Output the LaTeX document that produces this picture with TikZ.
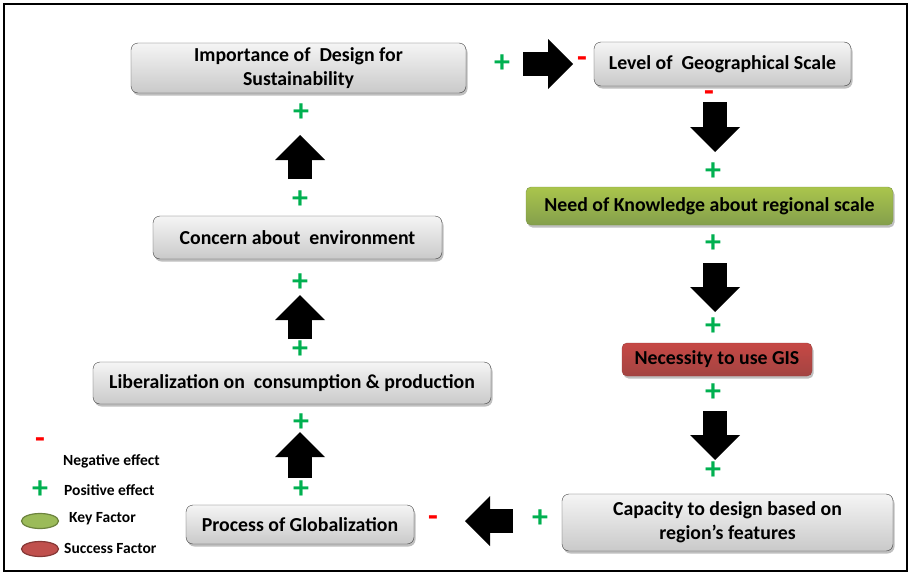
\documentclass[tikz,border=0pt]{standalone}
\usepackage{fontspec}
\setmainfont{Carlito}
\usetikzlibrary{arrows.meta,shadows,shapes.geometric}

\definecolor{plusgreen}{RGB}{0,176,80}
\definecolor{minusred}{RGB}{255,0,0}
\definecolor{keygreen}{RGB}{155,187,89}
\definecolor{succred}{RGB}{192,80,77}

\begin{document}
\begin{tikzpicture}[x=1pt,y=1pt]
        \tikzstyle{every node}+=[inner sep=0pt]
        \tikzstyle{every node}+=[font=\bfseries\fontsize{19.8}{24}\selectfont]
        \tikzstyle{boxshadow}=[drop shadow={shadow xshift=1.5pt,shadow yshift=-2.5pt,opacity=0.25,fill=black}]
        \tikzstyle{factor}=[draw=black!75, rounded corners=7pt, align=center, top color=black!4, bottom color=black!21, boxshadow]
        \tikzstyle{keyfactor}=[draw=keygreen!80!black, rounded corners=5pt, top color=keygreen!85!yellow, bottom color=keygreen!85!black, boxshadow]
        \tikzstyle{succfactor}=[draw=succred!80!black, rounded corners=5pt, top color=succred!90!red, bottom color=succred!85!black, boxshadow]
        \tikzstyle{blockarr}=[line width=24pt, -{Triangle[length=25pt,width=50pt,line width=0pt]}]
        \tikzstyle{plus}=[text=plusgreen, font=\bfseries\fontsize{32}{32}\selectfont]
        \tikzstyle{minus}=[text=minusred, font=\bfseries\fontsize{32}{32}\selectfont]
        \tikzstyle{legendtext}=[anchor=west, font=\bfseries\fontsize{15.5}{18}\selectfont]
        \useasboundingbox (0,0) rectangle (910,-573);
        \draw [black, line width=2pt] (4,-4) rectangle (907,-571);
        \node [factor, minimum width=335pt, minimum height=50pt] (imp) at (298.5,-68) {Importance of~ Design for\\Sustainability};
        \node [factor, minimum width=257pt, minimum height=44pt] (lvl) at (722.5,-64) {Level of~ Geographical Scale};
        \node [keyfactor, minimum width=367pt, minimum height=38pt] (need) at (709.5,-206) {Need of Knowledge about regional scale};
        \node [succfactor, minimum width=190pt, minimum height=33pt] (gis) at (717,-359.5) {Necessity to use GIS};
        \node [factor, minimum width=331pt, minimum height=57pt] (cap) at (727.5,-522.5) {Capacity to design based on\\region’s features};
        \node [factor, minimum width=228pt, minimum height=39pt] (glob) at (300,-524.5) {Process of Globalization};
        \node [factor, minimum width=398pt, minimum height=42pt] (lib) at (292,-383) {Liberalization on~ consumption \& production};
        \node [factor, minimum width=289pt, minimum height=43pt] (con) at (297.5,-237.5) {Concern about~ environment};
        \coordinate (a1s) at (523,-64);
        \coordinate (a1e) at (573,-64);
        \coordinate (a2s) at (715,-102);
        \coordinate (a2e) at (715,-152);
        \coordinate (a3s) at (715,-263);
        \coordinate (a3e) at (715,-312);
        \coordinate (a4s) at (715,-411);
        \coordinate (a4e) at (715,-460);
        \coordinate (a5s) at (513,-521);
        \coordinate (a5e) at (465,-521);
        \coordinate (a6s) at (300,-478);
        \coordinate (a6e) at (300,-432);
        \coordinate (a7s) at (300,-339);
        \coordinate (a7e) at (300,-295);
        \coordinate (a8s) at (300,-179);
        \coordinate (a8e) at (300,-135);
        \draw [blockarr] (a1s) -- (a1e);
        \draw [blockarr] (a2s) -- (a2e);
        \draw [blockarr] (a3s) -- (a3e);
        \draw [blockarr] (a4s) -- (a4e);
        \draw [blockarr] (a5s) -- (a5e);
        \draw [blockarr] (a6s) -- (a6e);
        \draw [blockarr] (a7s) -- (a7e);
        \draw [blockarr] (a8s) -- (a8e);
        \node [plus] (p1) at (502,-64) {+};
        \node [minus] (m1) at (582,-62) {-};
        \node [minus] (m2) at (709,-96) {-};
        \node [plus] (p2) at (713,-172) {+};
        \node [plus] (p3) at (713,-244) {+};
        \node [plus] (p4) at (713,-327) {+};
        \node [plus] (p5) at (713,-393) {+};
        \node [plus] (p6) at (713,-471) {+};
        \node [plus] (p7) at (540,-519) {+};
        \node [minus] (m3) at (433,-521) {-};
        \node [plus] (p8) at (301,-490) {+};
        \node [plus] (p9) at (301,-423) {+};
        \node [plus] (p10) at (300,-350) {+};
        \node [plus] (p11) at (300,-283) {+};
        \node [plus] (p12) at (300,-200) {+};
        \node [plus] (p13) at (301,-113) {+};
        \node [minus] (lm) at (40,-443) {-};
        \node [legendtext] (lneg) at (63,-461) {Negative effect};
        \node [plus] (lp) at (40,-490) {+};
        \node [legendtext] (lpos) at (64,-490) {Positive effect};
        \node [ellipse, draw=keygreen!70!black, line width=1.2pt, fill=keygreen, minimum width=37pt, minimum height=15pt] (lkey) at (40,-521) {};
        \node [legendtext] (lkeyt) at (69,-519) {Key Factor};
        \node [ellipse, draw=succred!70!black, line width=1.2pt, fill=succred, minimum width=37pt, minimum height=15pt] (lsucc) at (40,-549) {};
        \node [legendtext] (lsucct) at (64,-548) {Success Factor};
    \end{tikzpicture}
\end{document}
